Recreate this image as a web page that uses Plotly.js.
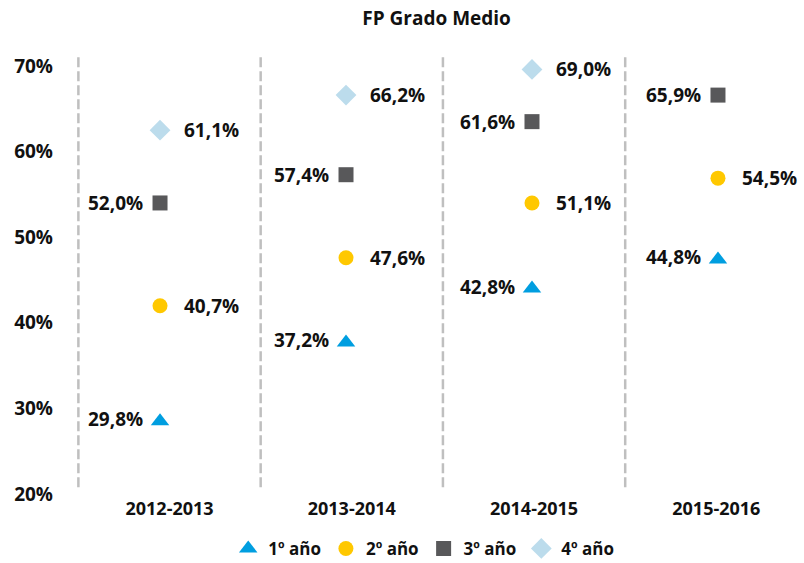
<!DOCTYPE html>
<html>
<head>
<meta charset="utf-8">
<script src="https://cdn.plot.ly/plotly-3.0.1.min.js"></script>
<style>html,body{margin:0;padding:0;background:#fff;}#chart{width:804px;height:563px;}</style>
</head>
<body>
<div id="chart"></div>
<script>
// Categories (school years)
const cursos = ['2012-2013', '2013-2014', '2014-2015', '2015-2016'];
const seriesNames = ['1º año', '2º año', '3º año', '4º año'];

// Marker positions (% on the y axis)
const primero = [28.5, 37.7, 44.0, 47.4];
const segundo = [42.0, 47.6, 54.0, 56.9];
const tercero = [54.0, 57.3, 63.5, 66.6];
const cuarto  = [62.5, 66.6, 69.6, null];

// Data labels as printed in the picture
const primeroLabels = ['29,8%', '37,2%', '42,8%', '44,8%'];
const segundoLabels = ['40,7%', '47,6%', '51,1%', '54,5%'];
const terceroLabels = ['52,0%', '57,4%', '61,6%', '65,9%'];
const cuartoLabels  = ['61,1%', '66,2%', '69,0%', ''];

// Y axis ticks
const yTicks = [20, 30, 40, 50, 60, 70];
const yTickText = ['20%', '30%', '40%', '50%', '60%', '70%'];

const FONT = 'Open Sans, Noto Sans, sans-serif';

const series = [
  {name: seriesNames[0], y: primero, labels: primeroLabels, symbol: 'triangle-up', size: 16, color: '#009ee0', side: 'left'},
  {name: seriesNames[1], y: segundo, labels: segundoLabels, symbol: 'circle', size: 15, color: '#ffc800', side: 'right'},
  {name: seriesNames[2], y: tercero, labels: terceroLabels, symbol: 'square', size: 15, color: '#58585a', side: 'left'},
  {name: seriesNames[3], y: cuarto, labels: cuartoLabels, symbol: 'diamond', size: 16, color: '#bcdcec', side: 'right'}
];

const traces = series.map(s => ({
  type: 'scatter',
  mode: 'markers',
  name: s.name,
  x: cursos,
  y: s.y,
  xaxis: 'x', yaxis: 'y',
  cliponaxis: false,
  marker: {symbol: s.symbol, size: s.size, color: s.color, line: {width: 0}},
  hoverinfo: 'skip'
}));

// invisible trace carrying the category axis with the year labels
traces.push({
  type: 'scatter', mode: 'markers',
  x: cursos, y: cursos.map(() => null),
  xaxis: 'x2', yaxis: 'y',
  showlegend: false, hoverinfo: 'skip'
});

const annotations = [];
series.forEach(s => {
  cursos.forEach((c, i) => {
    if (s.y[i] === null || !s.labels[i]) return;
    annotations.push({
      x: c, y: s.y[i], xref: 'x', yref: 'y',
      text: s.labels[i], showarrow: false,
      xanchor: s.side === 'right' ? 'left' : 'right',
      yanchor: 'middle',
      xshift: s.side === 'right' ? 22 : -15,
      yshift: s.symbol === 'triangle-up' ? 2 : 0,
      font: {family: FONT, size: 19, color: '#111', weight: 700}
    });
  });
});

// dashed separators at the boundaries between the year bands
const sepX = [-0.5, 0.5, 1.5, 2.5];
const shapes = sepX.map(x => ({
  type: 'line', xref: 'x2', yref: 'paper',
  x0: x, x1: x, y0: 0.016, y1: 1.03,
  line: {color: '#bfbfbf', width: 2.5, dash: '10px,4px'}
}));

const layout = {
  width: 804, height: 563,
  paper_bgcolor: '#fff', plot_bgcolor: '#fff',
  margin: {l: 70, r: 4, t: 66, b: 69},
  title: {
    text: 'FP Grado Medio',
    xref: 'container', yref: 'container',
    x: 0.543, y: 0.967, xanchor: 'center', yanchor: 'middle',
    font: {family: FONT, size: 19, color: '#111', weight: 700}
  },
  xaxis: {
    type: 'category',
    categoryorder: 'array', categoryarray: cursos,
    range: [-0.484, 3.441],
    showgrid: false, zeroline: false, showline: false,
    showticklabels: false, ticks: '',
    fixedrange: true
  },
  xaxis2: {
    type: 'category',
    categoryorder: 'array', categoryarray: cursos,
    overlaying: 'x', anchor: 'y', side: 'bottom',
    range: [-0.546, 3.459],
    showgrid: false, zeroline: false, showline: false,
    ticks: '',
    tickfont: {family: FONT, size: 18, color: '#111', weight: 700},
    ticklabelstandoff: 2,
    fixedrange: true
  },
  yaxis: {
    range: [20, 70],
    tickvals: yTicks, ticktext: yTickText,
    showgrid: false, zeroline: false, showline: false,
    ticks: '',
    tickfont: {family: FONT, size: 19, color: '#111', weight: 700},
    ticklabelstandoff: 16,
    fixedrange: true
  },
  showlegend: true,
  legend: {
    orientation: 'h',
    xref: 'container', yref: 'container',
    x: 0.527, xanchor: 'center',
    y: 0.025, yanchor: 'middle',
    font: {family: FONT, size: 17, color: '#111', weight: 700},
    itemwidth: 30,
    bgcolor: 'rgba(0,0,0,0)'
  },
  annotations: annotations,
  shapes: shapes
};

Plotly.newPlot('chart', traces, layout, {displayModeBar: false, staticPlot: true});
</script>
</body>
</html>
